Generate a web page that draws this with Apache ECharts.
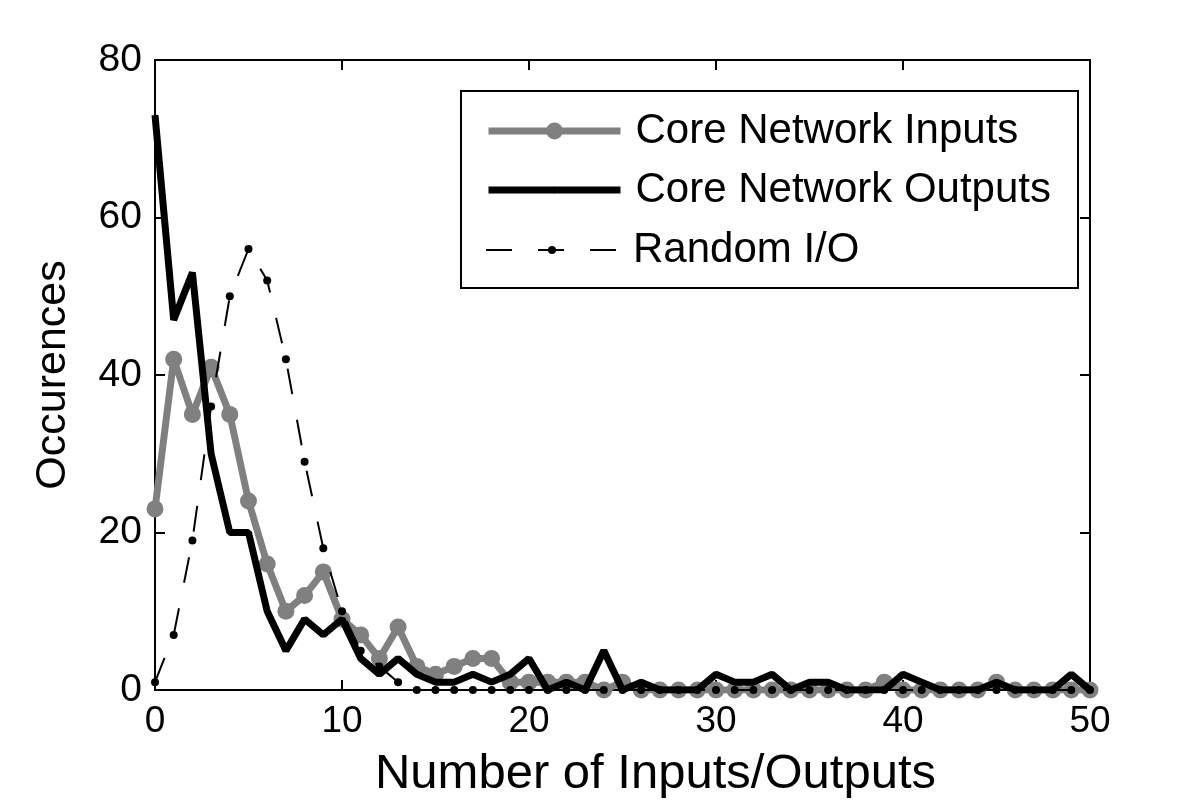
<!DOCTYPE html>
<html>
<head>
<meta charset="utf-8">
<script src="https://cdn.jsdelivr.net/npm/echarts@6/dist/echarts.min.js"></script>
<style>html,body{margin:0;padding:0;background:#fff;}#c{width:1200px;height:807px;}</style>
</head>
<body>
<div id="c"></div>
<script>
const xValues = [];
for (let i = 0; i <= 50; i++) xValues.push(i);
const inputs = [23,42,35,41,35,24,16,10,12,15,9,7,4,8,3,2,3,4,4,1,1,1,1,1,0,1,0,0,0,0,0,0,0,0,0,0,0,0,0,1,0,0,0,0,0,1,0,0,0,0,0];
const outputs = [73,47,53,30,20,20,10,5,9,7,9,4,2,4,2,1,1,2,1,2,4,0,1,0,5,0,1,0,0,0,2,1,1,2,0,1,1,0,0,0,2,1,0,0,0,1,0,0,0,2,0];
const randomIO = [1,7,19,36,50,56,52,42,29,18,10,5,3,1,0,0,0,0,0,0,0,0,0,0,0,0,0,0,0,0,0,0,0,0,0,0,0,0,0,0,0,0,0,0,0,0,0,0,0,0,0];
const xTicks = {min: 0, max: 50, interval: 10};
const yTicks = {min: 0, max: 80, interval: 20};
const names = ['Core Network Inputs', 'Core Network Outputs', 'Random I/O'];

const pair = arr => arr.map((v, i) => [xValues[i], v]);
const FONT = "'Liberation Sans', Arial, Helvetica, sans-serif";

const chart = echarts.init(document.getElementById('c'));
const axisCommon = {
  axisLine: {show: true, onZero: false, lineStyle: {color: '#000', width: 2}},
  axisTick: {show: true, inside: true, length: 10, lineStyle: {color: '#000', width: 2}},
  splitLine: {show: false}
};
const legendCommon = {
  orient: 'vertical', left: 485, padding: 0, itemWidth: 132,
  textStyle: {fontSize: 42, color: '#000', fontFamily: FONT, padding: [0, 0, 0, 10]},
  selectedMode: false
};
chart.setOption({
  animation: false,
  backgroundColor: '#fff',
  grid: {left: 155, right: 110, top: 60, bottom: 117, outerBoundsMode: 'none', containLabel: false},
  xAxis: [
    Object.assign({type: 'value', position: 'bottom', min: xTicks.min, max: xTicks.max, interval: xTicks.interval,
      name: 'Number of Inputs/Outputs', nameLocation: 'middle', nameGap: 60,
      nameTextStyle: {fontSize: 49, color: '#000', fontFamily: FONT, padding: [0, 0, 0, 66]},
      axisLabel: {fontSize: 37, color: '#000', fontFamily: FONT, margin: 13}}, axisCommon),
    Object.assign({type: 'value', position: 'top', min: xTicks.min, max: xTicks.max, interval: xTicks.interval,
      axisLabel: {show: false}}, axisCommon)
  ],
  yAxis: [
    Object.assign({type: 'value', position: 'left', min: yTicks.min, max: yTicks.max, interval: yTicks.interval,
      name: 'Occurences', nameLocation: 'middle', nameGap: 80,
      nameTextStyle: {fontSize: 43, color: '#000', fontFamily: FONT},
      axisLabel: {fontSize: 39, color: '#000', fontFamily: FONT, margin: 13}}, axisCommon),
    Object.assign({type: 'value', position: 'right', min: yTicks.min, max: yTicks.max, interval: yTicks.interval,
      axisLabel: {show: false}}, axisCommon)
  ],
  graphic: [{
    type: 'rect', left: 460, top: 90, z: 3,
    shape: {width: 617, height: 197},
    style: {fill: '#fff', stroke: '#000', lineWidth: 2}
  }],
  legend: [
    Object.assign({data: [names[0]], top: 110, itemHeight: 21, lineStyle: {width: 7}}, legendCommon),
    Object.assign({data: [names[1]], top: 169, itemHeight: 8, lineStyle: {width: 7}}, legendCommon),
    Object.assign({data: [names[2]], top: 229, itemHeight: 10, lineStyle: {width: 2}}, legendCommon)
  ],
  series: [
    {name: names[0], type: 'line', data: pair(inputs), symbol: 'circle', symbolSize: 17, z: 2,
      lineStyle: {color: '#808080', width: 7}, itemStyle: {color: '#808080'}},
    {name: names[1], type: 'line', data: pair(outputs), symbol: 'none', z: 3,
      lineStyle: {color: '#000', width: 7}, itemStyle: {color: '#000'}},
    {name: names[2], type: 'line', data: pair(randomIO), symbol: 'circle', symbolSize: 8, z: 4,
      lineStyle: {color: '#000', width: 2, type: [26, 26]}, itemStyle: {color: '#000'}}
  ]
});
</script>
</body>
</html>
